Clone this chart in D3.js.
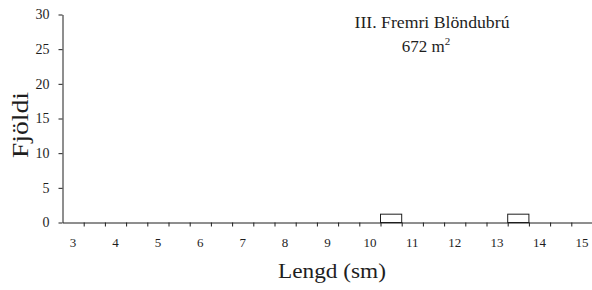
<!DOCTYPE html>
<html>
<head>
<meta charset="utf-8">
<script src="https://cdn.jsdelivr.net/npm/d3@7"></script>
<style>
  body { margin: 0; background: white; }
  svg { display: block; }
  svg text { font-family: "Liberation Serif", serif; }
</style>
</head>
<body>
<svg id="chart" width="592" height="290"></svg>
<script>
// bin centres (sm) and counts
const binCenters = [3, 3.5, 4, 4.5, 5, 5.5, 6, 6.5, 7, 7.5, 8, 8.5, 9, 9.5, 10, 10.5, 11, 11.5, 12, 12.5, 13, 13.5, 14, 14.5, 15];
const counts     = [0, 0,   0, 0,   0, 0,   0, 0,   0, 0,   0, 0,   0, 0,   0,  1.2, 0,  0,    0,  0,    0,  1.2, 0,  0,    0];
const xTickLabels = [3, 4, 5, 6, 7, 8, 9, 10, 11, 12, 13, 14, 15];
const yTickLabels = [0, 5, 10, 15, 20, 25, 30];
const binWidth = 0.5;

const svg = d3.select('#chart');
const ink = '#1e1e1e';
const font = '"Liberation Serif", serif';

const x = d3.scaleLinear().domain([2.75, 15.25]).range([62.5, 592.5]);
const y = d3.scaleLinear().domain([0, 30]).range([222.5, 14.5]);

// bars
svg.append('g')
  .selectAll('rect')
  .data(binCenters.map((c, i) => ({ c, n: counts[i] })).filter(d => d.n > 0))
  .enter().append('rect')
  .attr('x', d => x(d.c - binWidth / 2))
  .attr('y', d => y(d.n))
  .attr('width', d => x(d.c + binWidth / 2) - x(d.c - binWidth / 2))
  .attr('height', d => y(0) - y(d.n))
  .attr('fill', 'white')
  .attr('stroke', ink)
  .attr('stroke-width', 1);

// x axis: ticks at bin edges, labels at integer centres
const edges = binCenters.map(c => c + binWidth / 2);
const xAxis = svg.append('g').attr('transform', `translate(0,${y(0)})`);
xAxis.call(d3.axisBottom(x).tickValues(edges).tickSize(4).tickFormat('').tickSizeOuter(0));
xAxis.select('.domain').attr('stroke', ink);
xAxis.selectAll('line').attr('stroke', ink);

svg.append('g')
  .selectAll('text')
  .data(xTickLabels)
  .enter().append('text')
  .attr('x', d => x(d))
  .attr('y', 247)
  .attr('text-anchor', 'middle')
  .attr('font-family', font)
  .attr('font-size', 13)
  .attr('fill', ink)
  .text(d => d);

// y axis
const yAxis = svg.append('g').attr('transform', `translate(${x(2.75)},0)`)
  .call(d3.axisLeft(y).tickValues(yTickLabels).tickSize(4).tickPadding(9).tickSizeOuter(0))
  .attr('font-family', font)
  .attr('font-size', 14);
yAxis.select('.domain').attr('stroke', ink);
yAxis.selectAll('line').attr('stroke', ink);
yAxis.selectAll('text').attr('fill', ink);

// axis titles
svg.append('text')
  .attr('transform', 'translate(28,125) rotate(-90)')
  .attr('text-anchor', 'middle')
  .attr('textLength', 66)
  .attr('lengthAdjust', 'spacingAndGlyphs')
  .attr('font-family', font)
  .attr('font-size', 23)
  .attr('fill', ink)
  .text('Fjöldi');

svg.append('text')
  .attr('x', 332)
  .attr('y', 278)
  .attr('text-anchor', 'middle')
  .attr('textLength', 108)
  .attr('lengthAdjust', 'spacingAndGlyphs')
  .attr('font-family', font)
  .attr('font-size', 21)
  .attr('fill', ink)
  .text('Lengd (sm)');

// station label
svg.append('text')
  .attr('x', 432)
  .attr('y', 28)
  .attr('text-anchor', 'middle')
  .attr('textLength', 155)
  .attr('lengthAdjust', 'spacingAndGlyphs')
  .attr('font-family', font)
  .attr('font-size', 17)
  .attr('fill', ink)
  .text('III. Fremri Blöndubrú');

const l2 = svg.append('text')
  .attr('x', 426)
  .attr('y', 52)
  .attr('text-anchor', 'middle')
  .attr('font-family', font)
  .attr('font-size', 17)
  .attr('fill', ink);
l2.append('tspan').text('672 m');
l2.append('tspan').attr('dy', -7).attr('font-size', 11).text('2');
</script>
</body>
</html>
